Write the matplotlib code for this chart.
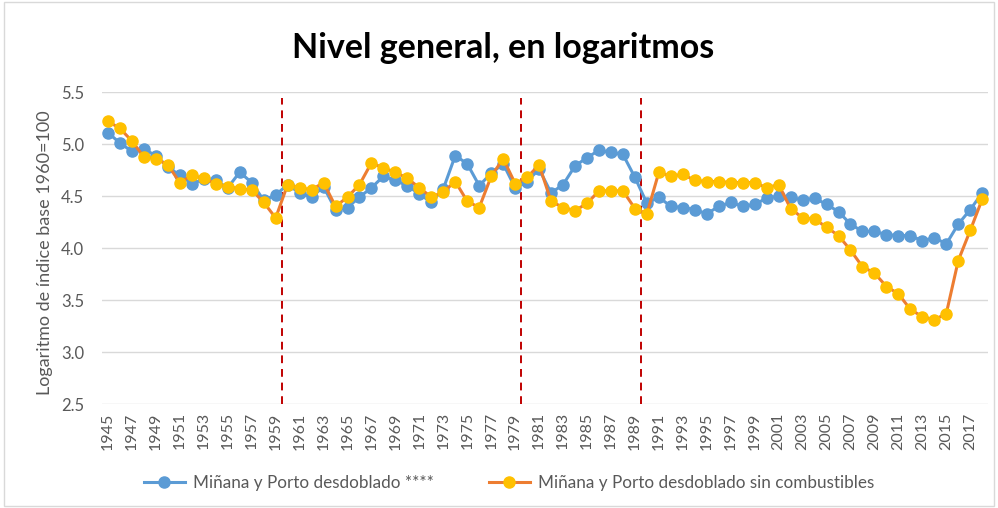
import matplotlib.pyplot as plt
from matplotlib.patches import Rectangle

# Data (log of price index, base 1960=100)
years = list(range(1945, 2019))
mp_desdoblado = [
    5.11, 5.01, 4.93, 4.95, 4.89, 4.78, 4.70, 4.62, 4.66, 4.65,
    4.58, 4.73, 4.63, 4.46, 4.51, 4.61, 4.53, 4.49, 4.59, 4.37,
    4.39, 4.49, 4.58, 4.69, 4.65, 4.60, 4.52, 4.44, 4.57, 4.89,
    4.81, 4.60, 4.72, 4.81, 4.58, 4.64, 4.76, 4.53, 4.61, 4.79,
    4.87, 4.94, 4.92, 4.90, 4.68, 4.43, 4.49, 4.40, 4.39, 4.37,
    4.33, 4.40, 4.44, 4.40, 4.42, 4.48, 4.50, 4.49, 4.46, 4.48,
    4.42, 4.35, 4.23, 4.16, 4.16, 4.13, 4.12, 4.12, 4.07, 4.10,
    4.04, 4.23, 4.37, 4.53,
]
mp_sin_combustibles = [
    5.22, 5.15, 5.03, 4.875, 4.86, 4.80, 4.63, 4.70, 4.67, 4.62,
    4.59, 4.57, 4.56, 4.44, 4.29, 4.61, 4.58, 4.56, 4.63, 4.40,
    4.49, 4.61, 4.82, 4.77, 4.73, 4.67, 4.58, 4.49, 4.54, 4.64,
    4.45, 4.39, 4.69, 4.86, 4.62, 4.68, 4.80, 4.45, 4.39, 4.36,
    4.43, 4.55, 4.55, 4.55, 4.38, 4.33, 4.73, 4.69, 4.71, 4.65,
    4.64, 4.64, 4.63, 4.63, 4.63, 4.58, 4.61, 4.38, 4.29, 4.28,
    4.20, 4.12, 3.98, 3.82, 3.76, 3.63, 3.56, 3.41, 3.34, 3.31,
    3.37, 3.88, 4.17, 4.47,
]
break_years = [1959.5, 1979.5, 1989.5]
y_ticks = [2.5, 3.0, 3.5, 4.0, 4.5, 5.0, 5.5]

BLUE = "#5B9BD5"
ORANGE = "#ED7D31"
GOLD = "#FFC000"
GRID = "#D9D9D9"
TEXT = "#595959"

plt.rcParams["font.family"] = ["Lato", "DejaVu Sans"]

fig = plt.figure(figsize=(9.98, 5.08), dpi=100)
ax = fig.add_axes([0.1022, 0.2047, 0.888, 0.614])

# chart frame
fig.patches.append(Rectangle((0.004, 0.004), 0.992, 0.992, transform=fig.transFigure,
                             fill=False, edgecolor=GRID, linewidth=1.0))

ax.plot(years, mp_desdoblado, color=BLUE, linewidth=2.2, marker="o", markersize=8,
        markerfacecolor=BLUE, markeredgecolor=BLUE, label="Miñana y Porto desdoblado ****",
        zorder=3)
ax.plot(years, mp_sin_combustibles, color=ORANGE, linewidth=2.2, marker="o", markersize=8,
        markerfacecolor=GOLD, markeredgecolor=GOLD,
        label="Miñana y Porto desdoblado sin combustibles", zorder=4)

for bx in break_years:
    ax.plot([bx, bx], [2.5, 5.44], color="#C00000", linewidth=1.4,
            linestyle=(0, (4, 3)), zorder=2)

ax.set_xlim(1944.5, 2018.5)
ax.set_ylim(2.5, 5.5)
ax.set_yticks(y_ticks)
ax.set_yticklabels([f"{v:.1f}" for v in y_ticks], fontsize=12, color=TEXT)
ax.set_xticks(years[::2])
ax.set_xticklabels([str(y) for y in years[::2]], rotation=90, fontsize=11.5, color=TEXT)
ax.tick_params(axis="y", length=0, pad=13)
ax.tick_params(axis="x", length=0, pad=6)
ax.grid(axis="y", color=GRID, linewidth=1.0, zorder=0)
ax.set_axisbelow(True)
for s in ax.spines.values():
    s.set_visible(False)

fig.text(0.045, 0.502, "Logaritmo de índice base 1960=100", rotation=90,
         ha="center", va="center", fontsize=13, color=TEXT)

fig.text(0.504, 0.905, "Nivel general, en logaritmos", ha="center", va="center",
         fontsize=24.5, fontweight="bold", color="black")

leg = fig.legend(loc="center", bbox_to_anchor=(0.51, 0.049), ncol=2, frameon=False,
                 fontsize=12.3, handlelength=2.4, columnspacing=3.2, handletextpad=0.5)
for t in leg.get_texts():
    t.set_color(TEXT)

fig.savefig("out.png", dpi=100)
